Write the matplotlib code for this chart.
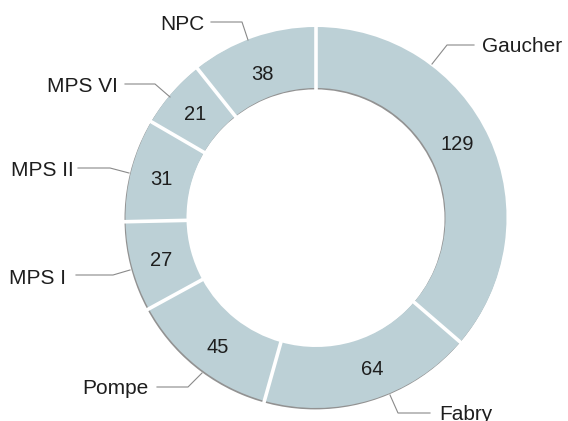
import numpy as np
import matplotlib
matplotlib.use('Agg')
import matplotlib.pyplot as plt
from matplotlib.patches import Wedge

diseases = ['Gaucher', 'Fabry', 'Pompe', 'MPS I', 'MPS II', 'MPS VI', 'NPC']
counts = [129, 64, 45, 27, 31, 21, 38]

ring_color = '#bcd0d6'
text_color = '#1e1e1e'
font = ['Liberation Sans', 'DejaVu Sans']

# layout in pixels (y measured from top of image)
W, H = 568, 421
cx, cy = 316, H - 217.5
R_out, ring_w = 190.5, 61

# small nudges of the value labels (degrees, pixels of radius)
val_dtheta = [3.5, 4, 1, 0, 0, 0, 1]
val_dr = [0, 0, 2, 0, 0, 0, -5]

# outer label text anchor + leader line (edge -> elbow -> end), pixel coords from top
label_layout = {
    'Gaucher': dict(txt=(482, 45), ha='left', line=[(432, 64), (447, 45), (474, 45)]),
    'Fabry': dict(txt=(439, 412), ha='left', line=[(390, 395), (398, 413), (430, 413)]),
    'Pompe': dict(txt=(148, 387), ha='right', line=[(202, 373), (188, 387), (157, 387)]),
    'MPS I': dict(txt=(66, 276), ha='right', line=[(130, 270), (113, 275), (76, 275)]),
    'MPS II': dict(txt=(74, 169), ha='right', line=[(129, 173), (110, 168), (78, 168)]),
    'MPS VI': dict(txt=(118, 84), ha='right', line=[(170, 97), (155, 84), (125, 84)]),
    'NPC': dict(txt=(204, 22), ha='right', line=[(248, 40), (242, 22), (211, 22)]),
}

fig = plt.figure(figsize=(5.68, 4.21), dpi=100)
ax = fig.add_axes([0, 0, 1, 1])

# soft shadow ring, shifted down-left
ax.add_patch(Wedge((cx - 1.0, cy - 1.4), R_out, 0, 360, width=ring_w,
                   facecolor='#6e6e6e', edgecolor='none', alpha=0.75, zorder=1))

wedges, _ = ax.pie(counts, radius=R_out, center=(cx, cy), startangle=90,
                   counterclock=False, colors=[ring_color] * len(counts),
                   wedgeprops=dict(width=ring_w, edgecolor='none', zorder=2))

# white gaps between segments
total = sum(counts)
bounds = 90 - 360 * np.cumsum([0] + counts[:-1]) / total
for a in bounds:
    t = np.deg2rad(a)
    r0, r1 = R_out - ring_w - 4, R_out + 4
    ax.plot([cx + r0 * np.cos(t), cx + r1 * np.cos(t)],
            [cy + r0 * np.sin(t), cy + r1 * np.sin(t)],
            color='white', lw=2.6, solid_capstyle='butt', zorder=3)

# values in the middle of the ring
r_mid = R_out - ring_w / 2
for w, v, dt, dr in zip(wedges, counts, val_dtheta, val_dr):
    t = np.deg2rad((w.theta1 + w.theta2) / 2 + dt)
    ax.text(cx + (r_mid + dr) * np.cos(t), cy + (r_mid + dr) * np.sin(t), str(v),
            ha='center', va='center_baseline', fontsize=14.5, color=text_color,
            family=font, zorder=4)

# category labels with leader lines
for name in diseases:
    lay = label_layout[name]
    xs = [p[0] for p in lay['line']]
    ys = [H - p[1] for p in lay['line']]
    ax.plot(xs, ys, color='#8a8a8a', lw=0.8, zorder=4)
    ax.text(lay['txt'][0], H - lay['txt'][1], name, ha=lay['ha'], va='center_baseline',
            fontsize=15, color=text_color, family=font, zorder=4)

ax.set_xlim(0, W)
ax.set_ylim(0, H)
ax.set_aspect('equal')
ax.axis('off')

fig.savefig('out.png', dpi=100)
